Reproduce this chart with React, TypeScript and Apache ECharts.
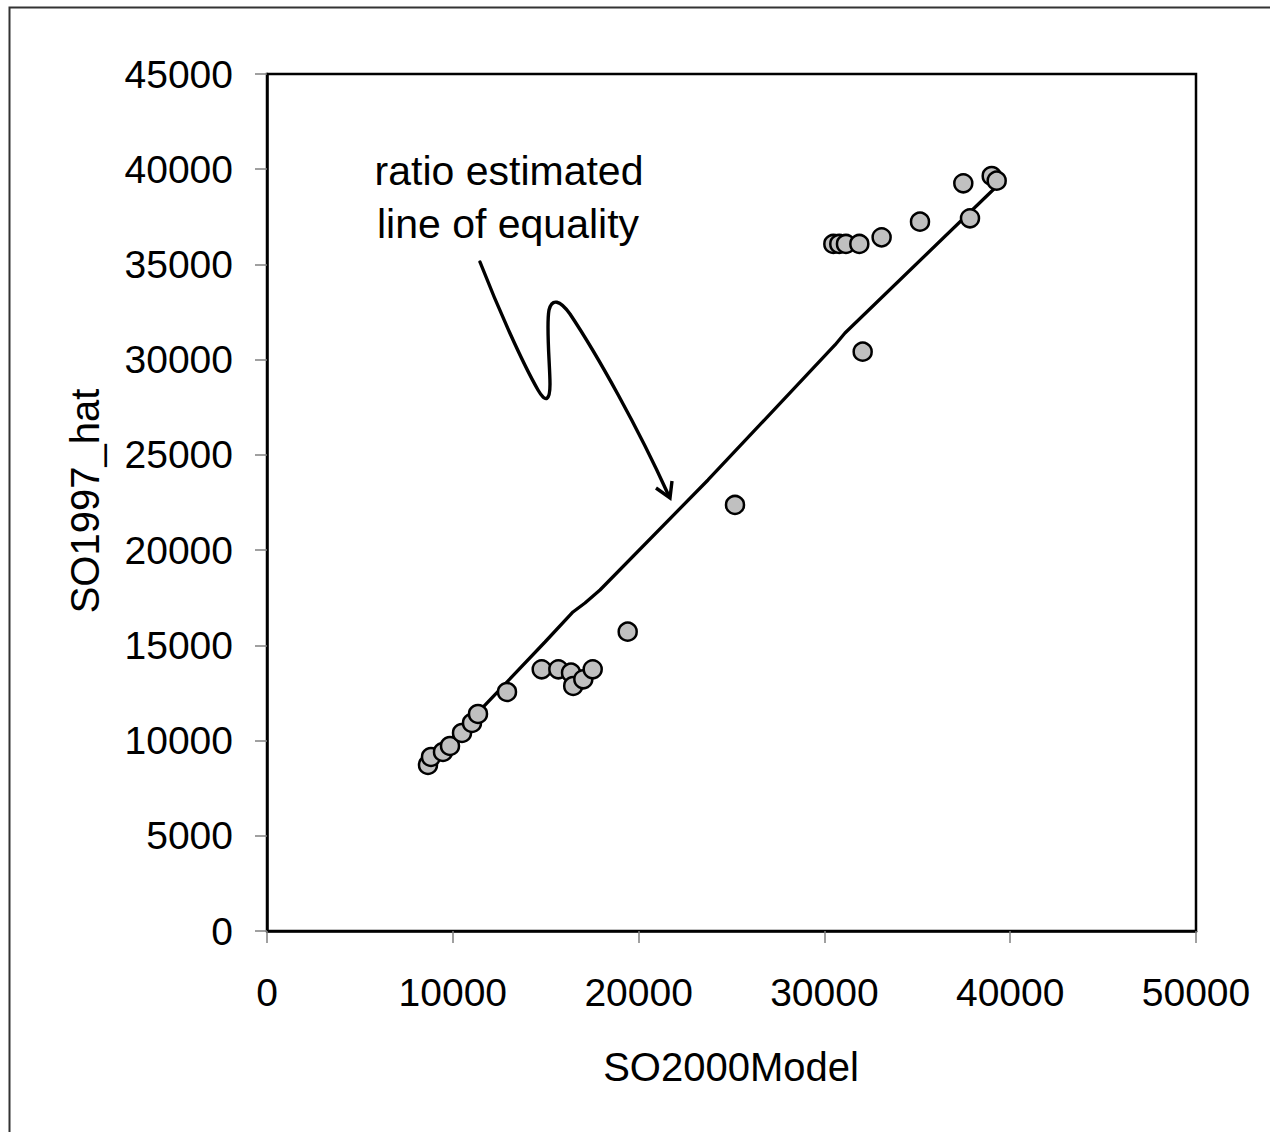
import React, { useEffect, useRef } from "react";
import * as echarts from "echarts";

// Observed points: SO2000Model (x) vs SO1997_hat (y)
const modelX = [
  8665, 8826, 9472, 9849, 10495, 11033, 11356, 12917,
  14785, 15680, 16362, 16480, 17025, 17530,
  19413, 25188,
  30480, 30800, 31160, 31880, 32060, 33080, 35145, 37476, 37836, 39004, 39273,
];
const hatY = [
  8717, 9137, 9400, 9715, 10397, 10922, 11395, 12550,
  13742, 13742, 13563, 12865, 13217, 13742,
  15717, 22370,
  36075, 36075, 36075, 36075, 30420, 36425, 37246, 39262, 37424, 39645, 39398,
];

// Ratio-estimated line of equality (vertices)
const lineX = [8665, 14962, 16469, 17115, 17922, 23735, 30570, 31108, 39181];
const lineY = [8717, 15175, 16751, 17224, 17906, 23682, 30771, 31401, 39014];

const xTicks = { min: 0, max: 50000, interval: 10000 };
const yTicks = { min: 0, max: 45000, interval: 5000 };

const xTitle = "SO2000Model";
const yTitle = "SO1997_hat";
const noteLines = ["ratio estimated", "line of equality"];

const FONT = "'Liberation Sans', Arial, Helvetica, sans-serif";

const arrowD =
  "M480,262 C498,308 522,362 538,390 C546,404 550,400 550,384 C550,366 546,326 549,310 C552,298 560,300 570,314 C598,356 638,428 668,494";

let registered = false;
function ensureShapes() {
  if (registered) return;
  registered = true;
  echarts.graphic.registerShape("noteArrow", echarts.graphic.extendPath(arrowD, {}));
}

export default function App() {
  const ref = useRef<HTMLDivElement>(null);
  useEffect(() => {
    if (!ref.current) return;
    ensureShapes();
    const chart = echarts.init(ref.current, null, { renderer: "svg" });
    const points = modelX.map((x, i) => [x, hatY[i]]);
    const line = lineX.map((x, i) => [x, lineY[i]]);
    const plain = (v: number) => String(v);
    chart.setOption({
      animation: false,
      backgroundColor: "#ffffff",
      grid: {
        left: 267,
        top: 74,
        right: 74,
        bottom: 201,
        show: true,
        borderColor: "#000",
        borderWidth: 2.5,
        backgroundColor: "transparent",
      },
      xAxis: {
        type: "value",
        min: xTicks.min,
        max: xTicks.max,
        interval: xTicks.interval,
        splitLine: { show: false },
        axisLine: { show: true, lineStyle: { color: "#000", width: 2.5 } },
        axisTick: { show: true, inside: false, length: 12, lineStyle: { color: "#808080", width: 1.5 } },
        axisLabel: { color: "#000", fontSize: 39, fontFamily: FONT, margin: 42, formatter: plain },
      },
      yAxis: {
        type: "value",
        min: yTicks.min,
        max: yTicks.max,
        interval: yTicks.interval,
        splitLine: { show: false },
        axisLine: { show: true, lineStyle: { color: "#000", width: 2.5 } },
        axisTick: { show: true, inside: false, length: 12, lineStyle: { color: "#808080", width: 1.5 } },
        axisLabel: { color: "#000", fontSize: 39, fontFamily: FONT, margin: 34, formatter: plain },
      },
      series: [
        {
          type: "line",
          data: line,
          showSymbol: false,
          symbol: "none",
          lineStyle: { color: "#000", width: 3.3 },
          z: 2,
        },
        {
          type: "scatter",
          data: points,
          symbol: "circle",
          symbolSize: 18,
          itemStyle: { color: "#C0C0C0", borderColor: "#000", borderWidth: 2.5, opacity: 1 },
          z: 3,
        },
      ],
      graphic: [
        {
          type: "rect",
          shape: { x: 9.5, y: 7.5, width: 1400, height: 1300 },
          style: { fill: "none", stroke: "#333", lineWidth: 2 },
          silent: true,
        },
        {
          type: "text",
          x: 731,
          y: 1067,
          style: { text: xTitle, font: `40px ${FONT}`, fill: "#000", textAlign: "center", textVerticalAlign: "middle" },
        },
        {
          type: "text",
          x: 85,
          y: 501,
          rotation: Math.PI / 2,
          style: { text: yTitle, font: `40px ${FONT}`, fill: "#000", textAlign: "center", textVerticalAlign: "middle" },
        },
        {
          type: "text",
          x: 509,
          y: 171,
          style: { text: noteLines[0], font: `41px ${FONT}`, fill: "#000", textAlign: "center", textVerticalAlign: "middle" },
        },
        {
          type: "text",
          x: 508,
          y: 224,
          style: { text: noteLines[1], font: `41px ${FONT}`, fill: "#000", textAlign: "center", textVerticalAlign: "middle" },
        },
        {
          type: "noteArrow",
          x: 0,
          y: 0,
          scaleX: 1,
          scaleY: 1,
          style: { fill: "none", stroke: "#000", lineWidth: 3.4, lineCap: "round", lineJoin: "round" },
        },
        {
          type: "polyline",
          shape: { points: [[656, 488], [670, 498], [672, 481]] },
          style: { fill: "none", stroke: "#000", lineWidth: 3.4, lineJoin: "miter" },
        },
      ],
    });
    return () => chart.dispose();
  }, []);
  return (
    <div
      ref={ref}
      style={{ position: "fixed", left: 0, top: 0, width: 1270, height: 1132, background: "#fff" }}
    />
  );
}
